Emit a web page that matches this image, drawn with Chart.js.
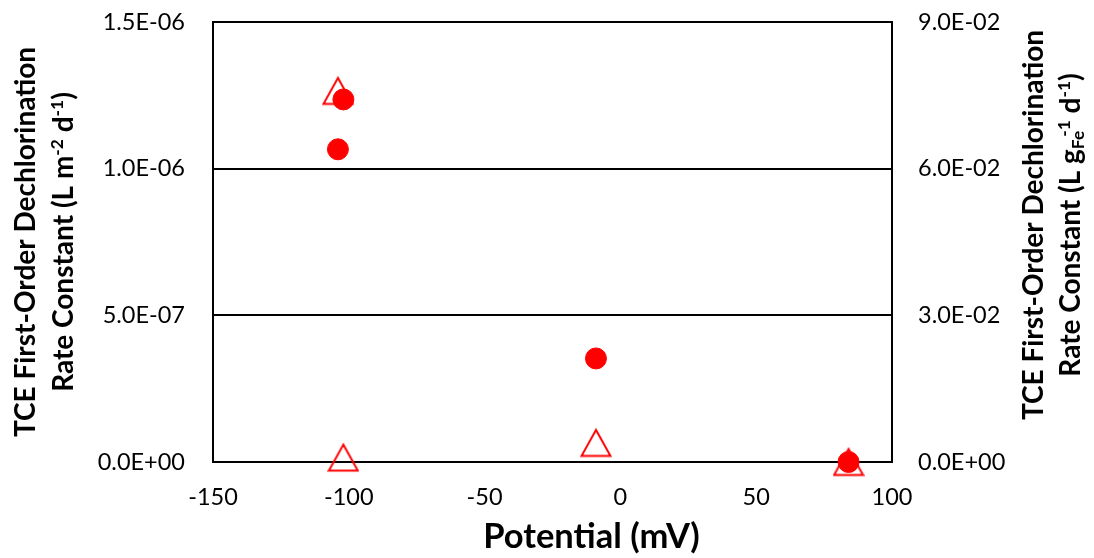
<!DOCTYPE html>
<html>
<head>
<meta charset="utf-8">
<script src="https://cdn.jsdelivr.net/npm/chart.js@4.4.1/dist/chart.umd.min.js"></script>
<style>
  html, body { margin: 0; padding: 0; background: #ffffff; }
  #wrap { width: 1094px; height: 558px; }
</style>
</head>
<body>
<div id="wrap"><canvas id="c" width="1094" height="558"></canvas></div>
<script>
// ---- data ----
const potentialCircles = [-104, -102, -9, 84];            // mV
const rateAreaCircles = [1.066e-6, 1.236e-6, 3.53e-7, 0];  // L m^-2 d^-1 (left axis)
const potentialTriangles = [-104, -102, -9, 84];          // mV
const rateMassTriangles = [0.0759, 0.0009, 0.0039, 0];     // L gFe^-1 d^-1 (right axis)

const xTickValues = [-150, -100, -50, 0, 50, 100];
const xTickLabels = ['-150', '-100', '-50', '0', '50', '100'];
const leftTickValues = [0, 5e-7, 1e-6, 1.5e-6];
const leftTickLabels = ['0.0E+00', '5.0E-07', '1.0E-06', '1.5E-06'];
const rightTickValues = [0, 0.03, 0.06, 0.09];
const rightTickLabels = ['0.0E+00', '3.0E-02', '6.0E-02', '9.0E-02'];

const xTitle = 'Potential (mV)';
const leftTitleLines = [
  [{t: 'TCE First-Order Dechlorination'}],
  [{t: 'Rate Constant (L m'}, {t: '-2', sup: true}, {t: ' d'}, {t: '-1', sup: true}, {t: ')'}]
];
const rightTitleLines = [
  [{t: 'TCE First-Order Dechlorination'}],
  [{t: 'Rate Constant (L g'}, {t: 'Fe', sub: true}, {t: '-1', sup: true, dx: -6}, {t: ' d'}, {t: '-1', sup: true}, {t: ')'}]
];

// ---- styling ----
const FONT = 'Lato';
const RED = '#ff0000';
const TICK_SIZE = 23.5;
const YTITLE_SIZE = 28;
const XTITLE_SIZE = 34.5;

function makeTriangle() {
  const cv = document.createElement('canvas');
  cv.width = 32; cv.height = 31;
  const g = cv.getContext('2d');
  g.strokeStyle = RED;
  g.lineWidth = 2;
  g.lineJoin = 'miter';
  g.beginPath();
  g.moveTo(16, 2.5);
  g.lineTo(30.5, 28.5);
  g.lineTo(1.5, 28.5);
  g.closePath();
  g.stroke();
  return cv;
}

function drawRich(ctx, segs, size, cx, by) {
  const small = size * 0.62;
  const parts = segs.map(s => {
    const sz = (s.sup || s.sub) ? small : size;
    ctx.font = 'bold ' + sz + 'px ' + FONT;
    return {s, sz, w: ctx.measureText(s.t).width, dx: s.dx || 0};
  });
  const total = parts.reduce((a, p) => a + p.w + p.dx, 0);
  let x = cx - total / 2;
  ctx.textAlign = 'left';
  ctx.textBaseline = 'alphabetic';
  ctx.fillStyle = '#000';
  for (const p of parts) {
    x += p.dx;
    ctx.font = 'bold ' + p.sz + 'px ' + FONT;
    let y = by;
    if (p.s.sup) y = by - size * 0.36;
    if (p.s.sub) y = by + size * 0.14;
    ctx.fillText(p.s.t, x, y);
    x += p.w;
  }
}

function drawRotatedLines(ctx, lines, baselines, cy, size) {
  lines.forEach((segs, i) => {
    ctx.save();
    ctx.translate(baselines[i], cy);
    ctx.rotate(-Math.PI / 2);
    drawRich(ctx, segs, size, 0, 0);
    ctx.restore();
  });
}

const titlePlugin = {
  id: 'richTitles',
  afterDraw(chart) {
    const ctx = chart.ctx;
    ctx.save();
    drawRotatedLines(ctx, leftTitleLines, [35, 73], 242, YTITLE_SIZE);
    drawRotatedLines(ctx, rightTitleLines, [1043, 1080], 225, YTITLE_SIZE);
    drawRich(ctx, [{t: xTitle}], XTITLE_SIZE, 591.5, 548);
    ctx.restore();
  }
};

function noPad(s) {
  s.paddingTop = 0; s.paddingBottom = 0; s.paddingLeft = 0; s.paddingRight = 0;
}

function build() {
  Chart.defaults.font.family = FONT;
  Chart.defaults.color = '#000';
  const tickFont = {family: FONT, size: TICK_SIZE, weight: 'normal'};
  new Chart(document.getElementById('c'), {
    type: 'scatter',
    data: {
      datasets: [
        {
          label: 'area-normalized',
          data: potentialCircles.map((x, i) => ({x, y: rateAreaCircles[i]})),
          yAxisID: 'y',
          pointStyle: 'circle',
          pointRadius: 10.5,
          pointBorderWidth: 1,
          backgroundColor: RED,
          borderColor: RED,
          showLine: false,
          clip: false,
          order: 0
        },
        {
          label: 'mass-normalized',
          data: potentialTriangles.map((x, i) => ({x, y: rateMassTriangles[i]})),
          yAxisID: 'y2',
          pointStyle: makeTriangle(),
          pointRadius: 15,
          backgroundColor: 'rgba(0,0,0,0)',
          borderColor: RED,
          showLine: false,
          clip: false,
          order: 1
        }
      ]
    },
    options: {
      responsive: false,
      animation: false,
      devicePixelRatio: 1,
      events: [],
      layout: {padding: {top: 22, left: 0, right: 0, bottom: 0}},
      plugins: {legend: {display: false}, tooltip: {enabled: false}, title: {display: false}},
      scales: {
        x: {
          type: 'linear', position: 'bottom', min: -150, max: 100,
          afterBuildTicks: s => { s.ticks = xTickValues.map(v => ({value: v})); },
          afterFit: s => { s.height = 96; noPad(s); },
          grid: {display: false, drawTicks: false},
          border: {display: true, color: '#000', width: 2},
          ticks: {callback: (v, i) => xTickLabels[i], font: tickFont, color: '#000', padding: 21, maxRotation: 0, autoSkip: false}
        },
        y: {
          type: 'linear', position: 'left', min: 0, max: 1.5e-6,
          afterBuildTicks: s => { s.ticks = leftTickValues.map(v => ({value: v})); },
          afterFit: s => { s.width = 213; noPad(s); },
          grid: {color: '#000', lineWidth: 2, drawTicks: false},
          border: {display: true, color: '#000', width: 2},
          ticks: {callback: (v, i) => leftTickLabels[i], font: tickFont, color: '#000', padding: 28, autoSkip: false}
        },
        y2: {
          type: 'linear', position: 'right', min: 0, max: 0.09,
          afterBuildTicks: s => { s.ticks = rightTickValues.map(v => ({value: v})); },
          afterFit: s => { s.width = 202; noPad(s); },
          grid: {display: false, drawTicks: false},
          border: {display: true, color: '#000', width: 2},
          ticks: {callback: (v, i) => rightTickLabels[i], font: tickFont, color: '#000', padding: 26, autoSkip: false}
        }
      }
    },
    plugins: [titlePlugin]
  });
}

const fontLoads = document.fonts && document.fonts.load
  ? Promise.all([document.fonts.load(TICK_SIZE + 'px ' + FONT), document.fonts.load('bold ' + YTITLE_SIZE + 'px ' + FONT)])
  : Promise.resolve();
fontLoads.then(build, build);
</script>
</body>
</html>
